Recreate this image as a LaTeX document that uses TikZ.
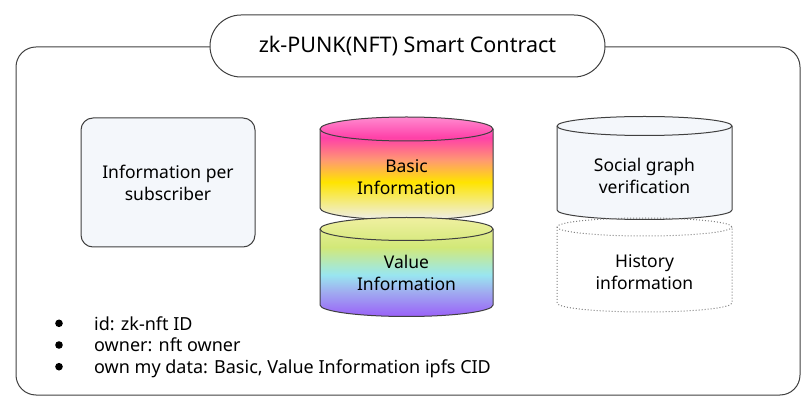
\documentclass[tikz,border=0pt]{standalone}
\usepackage{fontspec}
\setmainfont{Noto Sans}
\definecolor{linegray}{HTML}{404040}
\definecolor{boxfill}{HTML}{F4F7FB}
\definecolor{ba}{HTML}{FF8AD0}
\definecolor{bb}{HTML}{FF40A8}
\definecolor{bc}{HTML}{FF9A70}
\definecolor{bd}{HTML}{FFE400}
\definecolor{be}{HTML}{F3EC90}
\definecolor{bf}{HTML}{EEEEEE}
\definecolor{va}{HTML}{F0F0A0}
\definecolor{vb}{HTML}{D2E878}
\definecolor{vc}{HTML}{A8E8D0}
\definecolor{vd}{HTML}{99E6F0}
\definecolor{ve}{HTML}{A0ACF0}
\definecolor{vf}{HTML}{9A60F8}
\pgfdeclareverticalshading{basicshade}{100bp}{color(0bp)=(bf); color(25bp)=(bf); color(32.5bp)=(be); color(43.5bp)=(bd); color(54bp)=(bc); color(65bp)=(bb); color(75bp)=(ba); color(100bp)=(ba)}
\pgfdeclareverticalshading{valueshade}{100bp}{color(0bp)=(vf); color(25bp)=(vf); color(37.5bp)=(ve); color(46bp)=(vd); color(50bp)=(vc); color(60bp)=(vb); color(75bp)=(va); color(100bp)=(va)}
\begin{document}
\begin{tikzpicture}[x=1pt,y=1pt,
  frame/.style={draw=linegray, line width=1pt},
  cyl/.style={draw=linegray, line width=1pt},
  dotcyl/.style={draw=gray, line width=1pt, dotted},
  lbl/.style={font=\fontsize{17.5}{22}\selectfont, align=center, text=black, inner sep=0pt},
  bul/.style={font=\fontsize{18}{20}\selectfont, anchor=base west, inner sep=0pt},
  dot/.style={fill=black}
]
\useasboundingbox (0,0) rectangle (810,404);
\draw[frame, rounded corners=20pt] (16,9) rectangle (800,357);
\node[frame, fill=white, rounded corners=31pt, minimum width=395pt, minimum height=62pt, font=\fontsize{21.5}{24}\selectfont] (title) at (407.5,358) {zk-PUNK(NFT) Smart Contract};

\node[frame, fill=boxfill, rounded corners=12pt, minimum width=174pt, minimum height=129pt, lbl] (sub) at (168,221.5) {Information per\\subscriber};

% Basic cylinder
\shade[shading=basicshade] (320,275) -- (320,196) arc[start angle=180,end angle=360,x radius=86.5pt,y radius=12pt] -- (493,275) arc[start angle=0,end angle=180,x radius=86.5pt,y radius=12pt] -- cycle;
\draw[cyl] (320,275) -- (320,196) arc[start angle=180,end angle=360,x radius=86.5pt,y radius=12pt] -- (493,275) arc[start angle=0,end angle=180,x radius=86.5pt,y radius=12pt] -- cycle;
\draw[cyl] (320,275) arc[start angle=180,end angle=360,x radius=86.5pt,y radius=12pt];
\node[lbl] (basic) at (406.5,227) {Basic\\Information};

% Value cylinder
\shade[shading=valueshade] (320,175) -- (320,99) arc[start angle=180,end angle=360,x radius=86.5pt,y radius=11.5pt] -- (493,175) arc[start angle=0,end angle=180,x radius=86.5pt,y radius=11.5pt] -- cycle;
\draw[cyl] (320,175) -- (320,99) arc[start angle=180,end angle=360,x radius=86.5pt,y radius=11.5pt] -- (493,175) arc[start angle=0,end angle=180,x radius=86.5pt,y radius=11.5pt] -- cycle;
\draw[cyl] (320,175) arc[start angle=180,end angle=360,x radius=86.5pt,y radius=11.5pt];
\node[lbl] (value) at (406.5,131) {Value\\Information};

% Social cylinder
\draw[cyl, fill=boxfill] (557,278) -- (557,194) arc[start angle=180,end angle=360,x radius=87.5pt,y radius=9.5pt] -- (732,278) arc[start angle=0,end angle=180,x radius=87.5pt,y radius=9.5pt] -- cycle;
\draw[cyl] (557,278) arc[start angle=180,end angle=360,x radius=87.5pt,y radius=9.5pt];
\node[lbl] (social) at (644.5,228) {Social graph\\verification};

% History cylinder (dotted)
\draw[dotcyl] (557,177) -- (557,101) arc[start angle=180,end angle=360,x radius=87.5pt,y radius=9pt] -- (732,177) arc[start angle=0,end angle=180,x radius=87.5pt,y radius=9pt] -- cycle;
\draw[dotcyl] (557,177) arc[start angle=180,end angle=360,x radius=87.5pt,y radius=9pt];
\node[lbl] (history) at (644.5,132) {History\\information};

% bullets
\fill[dot] (59,80.7) circle (3.8pt);
\fill[dot] (59,59) circle (3.8pt);
\fill[dot] (59,37.3) circle (3.8pt);
\node[bul] (b1) at (94,74) {id: zk-nft ID};
\node[bul] (b2) at (94,52.3) {owner: nft owner};
\node[bul] (b3) at (94,30.7) {own my data: Basic, Value Information ipfs CID};
\end{tikzpicture}
\end{document}
